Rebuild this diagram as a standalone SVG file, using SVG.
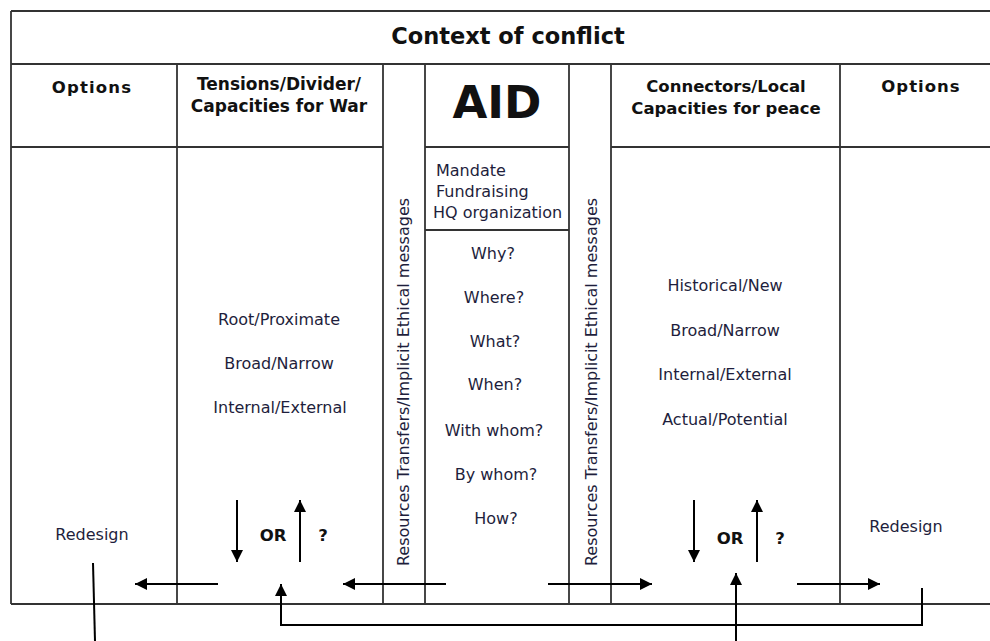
<svg xmlns="http://www.w3.org/2000/svg" width="990" height="641" viewBox="0 0 990 641">
<defs>
<marker id="ah" viewBox="0 0 10 10" refX="10" refY="5" markerWidth="14" markerHeight="12" markerUnits="userSpaceOnUse" orient="auto">
<path d="M0,0 L10,5 L0,10 z" fill="#000"/>
</marker>
<style>
.grid{stroke:#333;stroke-width:1.8;fill:none}
.hd{font-family:"DejaVu Sans",Verdana,sans-serif;font-weight:bold;fill:#111;text-anchor:middle}
.tx{font-family:"DejaVu Sans",Tahoma,sans-serif;fill:#1e1e3c;text-anchor:middle;font-size:16px}
.ar{stroke:#000;stroke-width:2;fill:none}
.arm{stroke:#000;stroke-width:2;fill:none;marker-end:url(#ah)}
</style>
</defs>
<rect width="990" height="641" fill="#fff"/>
<g id="table" class="grid">
<path d="M11,11 H995 M11,64 H995 M11,147 H383 M425,147 H569 M611,147 H995 M425,230 H569 M11,604 H995"/>
<path d="M11,11 V604 M177,64 V604 M383,64 V604 M425,64 V604 M569,64 V604 M611,64 V604 M840,64 V604"/>
</g>
<g id="context"><text class="hd" x="508" y="44" font-size="22.5">Context of conflict</text></g>
<g id="options-left">
<text class="hd" x="92" y="93" font-size="16.5" letter-spacing="1.2">Options</text>
<text class="tx" x="92" y="540">Redesign</text>
</g>
<g id="tensions">
<text class="hd" x="279" y="90" font-size="17">Tensions/Divider/</text>
<text class="hd" x="279" y="112" font-size="17">Capacities for War</text>
<text class="tx" x="279" y="325" font-size="16.5">Root/Proximate</text>
<text class="tx" x="279" y="369" font-size="16.5">Broad/Narrow</text>
<text class="tx" x="280" y="413" font-size="16.5">Internal/External</text>
</g>
<g id="strip-left"><text class="tx" transform="translate(409,382) rotate(-90)" font-size="15.5">Resources Transfers/Implicit Ethical messages</text></g>
<g id="aid">
<text class="hd" x="497" y="118" font-size="45">AID</text>
<text class="tx" x="436" y="176" style="text-anchor:start">Mandate</text>
<text class="tx" x="436" y="197" style="text-anchor:start">Fundraising</text>
<text class="tx" x="433" y="218" style="text-anchor:start" font-size="14">HQ organization</text>
<text class="tx" x="493" y="259">Why?</text>
<text class="tx" x="494" y="303">Where?</text>
<text class="tx" x="495" y="347">What?</text>
<text class="tx" x="495" y="390">When?</text>
<text class="tx" x="494" y="436">With whom?</text>
<text class="tx" x="496" y="480">By whom?</text>
<text class="tx" x="496" y="524">How?</text>
</g>
<g id="strip-right"><text class="tx" transform="translate(597,382) rotate(-90)" font-size="15.5">Resources Transfers/Implicit Ethical messages</text></g>
<g id="connectors">
<text class="hd" x="726" y="92" font-size="16.5">Connectors/Local</text>
<text class="hd" x="726" y="114" font-size="16.5">Capacities for peace</text>
<text class="tx" x="725" y="291" font-size="16.5">Historical/New</text>
<text class="tx" x="725" y="336" font-size="16.5">Broad/Narrow</text>
<text class="tx" x="725" y="380" font-size="16.5">Internal/External</text>
<text class="tx" x="725" y="425" font-size="16.5">Actual/Potential</text>
</g>
<g id="options-right">
<text class="hd" x="921" y="92" font-size="16.5" letter-spacing="1">Options</text>
<text class="tx" x="906" y="532">Redesign</text>
</g>
<g id="or-left">
<text class="hd" x="273" y="541" font-size="16.5">OR</text>
<text class="hd" x="323" y="541" font-size="16.5">?</text>
</g>
<g id="or-right">
<text class="hd" x="730" y="544" font-size="16.5">OR</text>
<text class="hd" x="780" y="544" font-size="16.5">?</text>
</g>
<g id="connectors-lines">
<line class="arm" x1="237" y1="500" x2="237" y2="562"/>
<line class="arm" x1="300" y1="562" x2="300" y2="500"/>
<line class="arm" x1="694" y1="500" x2="694" y2="562"/>
<line class="arm" x1="757" y1="562" x2="757" y2="500"/>
<line class="arm" x1="218" y1="584" x2="135" y2="584"/>
<line class="arm" x1="446" y1="584" x2="343" y2="584"/>
<line class="arm" x1="548" y1="584" x2="652" y2="584"/>
<line class="arm" x1="797" y1="584" x2="880" y2="584"/>
<line class="ar" x1="93" y1="563" x2="95" y2="641"/>
<path class="arm" d="M922,588 V625 H281 V584"/>
<line class="arm" x1="736" y1="641" x2="736" y2="573"/>
</g>
</svg>
